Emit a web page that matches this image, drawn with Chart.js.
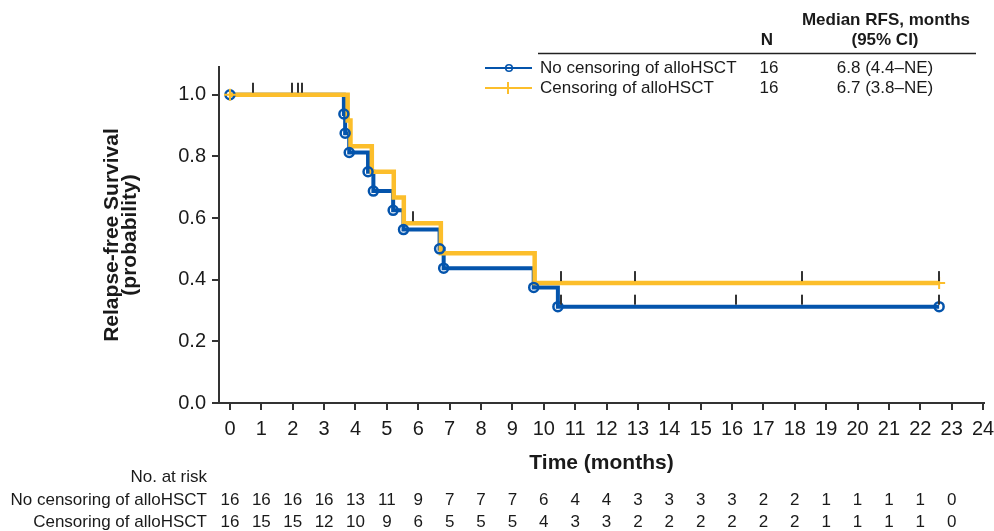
<!DOCTYPE html>
<html>
<head>
<meta charset="utf-8">
<script src="https://cdn.jsdelivr.net/npm/chart.js@4.4.1/dist/chart.umd.min.js"></script>
<style>
html,body{margin:0;padding:0;background:#fff;}
canvas{display:block;}
</style>
</head>
<body>
<canvas id="c" width="994" height="531" style="width:994px;height:531px"></canvas>
<script>
// ---------- data ----------
const xTicks = [0,1,2,3,4,5,6,7,8,9,10,11,12,13,14,15,16,17,18,19,20,21,22,23,24];
const yTicks = [0, 0.2, 0.4, 0.6, 0.8, 1.0];

const seriesNames = ['No censoring of alloHSCT', 'Censoring of alloHSCT'];
const seriesN = [16, 16];
const seriesMedian = ['6.8 (4.4\u2013NE)', '6.7 (3.8\u2013NE)'];

// No censoring of alloHSCT: step times and survival
const noCensTimes = [0, 3.63, 3.67, 3.80, 4.40, 4.57, 5.20, 5.53, 6.68, 6.81, 9.68, 10.45, 22.6];
const noCensSurv  = [1.0, 0.9375, 0.875, 0.8125, 0.75, 0.6875, 0.625, 0.5625, 0.5, 0.4375, 0.375, 0.3125, 0.3125];
const noCensCensorTimes = [10.56, 12.9, 16.12, 18.24, 22.6];

// Censoring of alloHSCT
const censTimes = [0, 3.75, 3.84, 4.52, 5.22, 5.54, 6.72, 9.71, 22.6];
const censSurv  = [1.0, 0.9167, 0.8333, 0.75, 0.6667, 0.5833, 0.4861, 0.3889, 0.3889];
const censCensorTimes = [0.74, 1.99, 2.16, 2.30, 5.82, 10.56, 12.9, 18.24, 22.6];

// Numbers at risk at months 0..23
const riskNoCens = [16,16,16,16,13,11,9,7,7,7,6,4,4,3,3,3,3,2,2,1,1,1,1,0];
const riskCens   = [16,15,15,12,10,9,6,5,5,5,4,3,3,2,2,2,2,2,2,1,1,1,1,0];

// ---------- styling ----------
const BLUE = '#0454AC';
const YELLOW = '#FCBE2B';
const INK = '#1a1a1a';
const TICK = '#333333';
const FONT = "'Liberation Sans', Arial, Helvetica, sans-serif";

function survAt(times, surv, t) {
  let s = surv[0];
  for (let i = 0; i < times.length; i++) { if (times[i] <= t) s = surv[i]; }
  return s;
}
const pts = (xs, ys) => xs.map((x, i) => ({x: x, y: ys[i]}));
function censorPoints(ct, times, surv) { return ct.map(t => ({x: t, y: survAt(times, surv, t)})); }

function makeTickImage() {
  const c = document.createElement('canvas');
  c.width = 2; c.height = 26;
  const g = c.getContext('2d');
  g.fillStyle = TICK;
  g.fillRect(0, 1, 2, 10);
  return c;
}
const tickImg = makeTickImage();

const tablePlugin = {
  id: 'tables',
  afterDraw(chart) {
    const ctx = chart.ctx;
    const xs = chart.scales.x;
    ctx.save();
    // legend table header
    ctx.fillStyle = INK;
    ctx.textBaseline = 'middle';
    ctx.textAlign = 'center';
    ctx.font = 'bold 17px ' + FONT;
    ctx.fillText('Median RFS, months', 886, 20);
    ctx.fillText('(95% CI)', 885, 40);
    ctx.fillText('N', 767, 40);
    ctx.strokeStyle = '#222';
    ctx.lineWidth = 1.5;
    ctx.beginPath(); ctx.moveTo(538, 53.5); ctx.lineTo(976, 53.5); ctx.stroke();

    const rowsY = [68, 88];
    const colors = [BLUE, YELLOW];
    ctx.font = '17px ' + FONT;
    for (let i = 0; i < 2; i++) {
      const y = rowsY[i];
      ctx.strokeStyle = colors[i];
      ctx.lineWidth = 2;
      ctx.beginPath(); ctx.moveTo(485, y); ctx.lineTo(532, y); ctx.stroke();
      if (i === 0) {
        ctx.lineWidth = 1.6;
        ctx.beginPath(); ctx.arc(509, y, 3.3, 0, Math.PI * 2); ctx.stroke();
      } else {
        ctx.lineWidth = 2;
        ctx.beginPath(); ctx.moveTo(508, y - 6); ctx.lineTo(508, y + 6); ctx.stroke();
      }
      ctx.fillStyle = INK;
      ctx.textAlign = 'left';
      ctx.fillText(seriesNames[i], 540, y);
      ctx.textAlign = 'center';
      ctx.fillText(String(seriesN[i]), 769, y);
      ctx.fillText(seriesMedian[i], 885, y);
    }

    // risk table
    ctx.fillStyle = INK;
    ctx.font = '17px ' + FONT;
    ctx.textAlign = 'right';
    ctx.fillText('No. at risk', 207, 477);
    ctx.fillText(seriesNames[0], 207, 500);
    ctx.fillText(seriesNames[1], 207, 522);
    ctx.textAlign = 'center';
    for (let i = 0; i < riskNoCens.length; i++) {
      const px = xs.getPixelForValue(xTicks[i]);
      ctx.fillText(String(riskNoCens[i]), px, 500);
      ctx.fillText(String(riskCens[i]), px, 522);
    }
    ctx.restore();
  }
};

const axisCommon = {
  grid: {drawOnChartArea: false, drawTicks: true, tickLength: 7, tickWidth: 2, tickColor: TICK, lineWidth: 2},
  border: {display: true, color: TICK, width: 2}
};

new Chart(document.getElementById('c'), {
  type: 'line',
  data: {
    datasets: [
      {label: seriesNames[0], data: pts(noCensTimes, noCensSurv), borderColor: BLUE, borderWidth: 4,
       stepped: 'before', pointRadius: 0, fill: false, order: 5},
      {label: seriesNames[1], data: pts(censTimes, censSurv), borderColor: YELLOW, borderWidth: 4.5,
       stepped: 'before', pointRadius: 0, fill: false, order: 4},
      {label: 'marks1', type: 'scatter', data: pts(noCensTimes, noCensSurv), showLine: false,
       pointStyle: 'circle', pointRadius: 4.5, pointBorderWidth: 2.5, pointBorderColor: BLUE,
       pointBackgroundColor: 'rgba(0,0,0,0)', order: 3},
      {label: 'marks2', type: 'scatter',
       data: pts([censTimes[0], censTimes[censTimes.length - 1]], [censSurv[0], censSurv[censSurv.length - 1]]),
       showLine: false, pointStyle: 'cross', pointRadius: 6, pointBorderWidth: 2,
       pointBorderColor: YELLOW, order: 2},
      {label: 'censor', type: 'scatter',
       data: censorPoints(noCensCensorTimes, noCensTimes, noCensSurv).concat(censorPoints(censCensorTimes, censTimes, censSurv)),
       showLine: false, pointStyle: tickImg, pointRadius: 5, order: 1}
    ]
  },
  options: {
    responsive: false,
    devicePixelRatio: 1,
    animation: false,
    events: [],
    layout: {padding: {top: 67, right: 10, bottom: 0, left: 0}},
    plugins: {legend: {display: false}, tooltip: {enabled: false}},
    scales: {
      x: Object.assign({}, axisCommon, {
        type: 'linear', min: -0.35, max: 24.03,
        afterBuildTicks: s => { s.ticks = xTicks.map(v => ({value: v})); },
        ticks: {autoSkip: false, maxRotation: 0, padding: 7, color: INK,
                font: {family: FONT, size: 20}, callback: v => String(v)},
        title: {display: true, text: 'Time (months)', color: INK,
                font: {family: FONT, size: 21, weight: 'bold'}, padding: {top: 0, bottom: 55}},
        afterFit: s => { s.height = 128; s.paddingLeft = 0; s.paddingRight = 0; }
      }),
      y: Object.assign({}, axisCommon, {
        type: 'linear', min: 0, max: 1.09,
        afterBuildTicks: s => { s.ticks = yTicks.map(v => ({value: v})); },
        ticks: {padding: 6, color: INK, font: {family: FONT, size: 20}, callback: v => Number(v).toFixed(1)},
        title: {display: true, text: ['Relapse-free Survival', '(probability)'], color: INK,
                font: {family: FONT, size: 21, weight: 'bold', lineHeight: 0.86}, padding: {top: 103, bottom: 0}},
        afterFit: s => { s.width = 219; s.paddingTop = 0; s.paddingBottom = 0; }
      })
    }
  },
  plugins: [tablePlugin]
});
</script>
</body>
</html>
